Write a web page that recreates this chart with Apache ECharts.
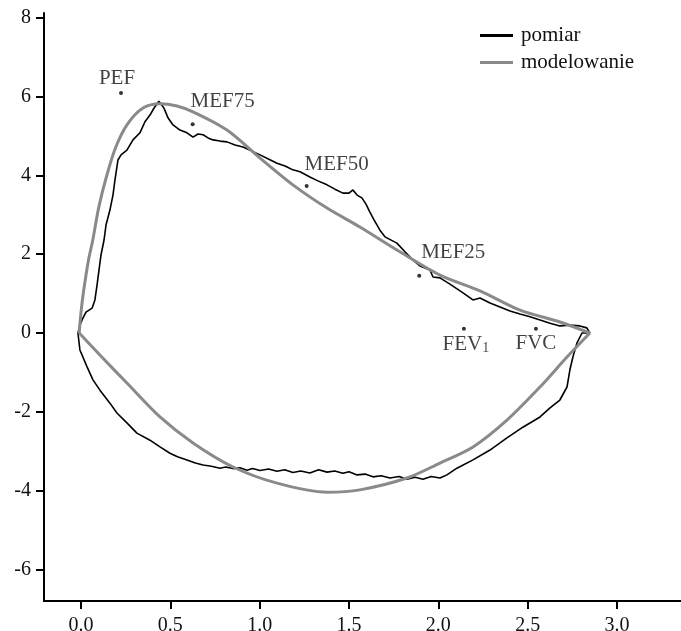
<!DOCTYPE html>
<html>
<head>
<meta charset="utf-8">
<script src="https://cdn.jsdelivr.net/npm/echarts@6/dist/echarts.min.js"></script>
<style>html,body{margin:0;padding:0;background:#fff;}#c{width:681px;height:631px;}</style>
</head>
<body>
<div id="c"></div>
<script>
// ---- data (volume [L], flow [L/s]) ----
const xTicks = [0, 0.5, 1.0, 1.5, 2.0, 2.5, 3.0];
const yTicks = [-6, -4, -2, 0, 2, 4, 6, 8];

const pomiarExpV = [-0.017,-0.006,0.011,0.028,0.062,0.078,0.090,0.101,0.112,0.129,0.140,0.162,0.179,0.190,0.207,0.224,0.257,0.291,0.330,0.358,0.386,0.409,0.425,0.436,0.448,0.464,0.487,0.515,0.554,0.593,0.627,0.655,0.683,0.711,0.739,0.778,0.817,0.862,0.907,0.946,1.002,1.046,1.097,1.142,1.186,1.226,1.281,1.326,1.377,1.421,1.466,1.500,1.522,1.545,1.572,1.595,1.617,1.640,1.673,1.701,1.768,1.813,1.858,1.897,1.953,1.970,2.009,2.065,2.138,2.194,2.233,2.289,2.345,2.401,2.457,2.513,2.569,2.625,2.680,2.736,2.792,2.831,2.848];
const pomiarExpF = [0,0.20,0.38,0.53,0.63,0.84,1.22,1.60,1.98,2.36,2.74,3.12,3.50,3.88,4.39,4.52,4.64,4.90,5.08,5.36,5.53,5.71,5.81,5.88,5.81,5.71,5.46,5.28,5.15,5.08,4.97,5.05,5.03,4.95,4.90,4.87,4.85,4.77,4.72,4.64,4.52,4.42,4.31,4.24,4.14,4.09,3.96,3.86,3.76,3.65,3.55,3.55,3.63,3.50,3.43,3.27,3.07,2.87,2.61,2.44,2.28,2.06,1.85,1.70,1.60,1.42,1.40,1.24,1.02,0.84,0.89,0.76,0.66,0.56,0.48,0.41,0.33,0.25,0.18,0.20,0.18,0.13,0];

const pomiarInsV = [2.804,2.776,2.753,2.736,2.720,2.680,2.625,2.569,2.473,2.384,2.289,2.194,2.104,2.048,2.009,1.960,1.914,1.870,1.824,1.780,1.729,1.680,1.634,1.590,1.545,1.500,1.466,1.420,1.377,1.330,1.281,1.230,1.186,1.140,1.097,1.050,1.002,0.960,0.929,0.890,0.851,0.810,0.778,0.730,0.683,0.640,0.593,0.540,0.498,0.442,0.386,0.313,0.257,0.201,0.162,0.106,0.067,0.034,-0.006,-0.017];
const pomiarInsF = [0,-0.25,-0.61,-0.94,-1.37,-1.70,-1.90,-2.13,-2.39,-2.66,-2.97,-3.22,-3.43,-3.60,-3.68,-3.64,-3.71,-3.66,-3.71,-3.64,-3.68,-3.62,-3.65,-3.58,-3.60,-3.52,-3.56,-3.50,-3.53,-3.47,-3.55,-3.50,-3.54,-3.47,-3.51,-3.45,-3.49,-3.44,-3.48,-3.42,-3.44,-3.40,-3.43,-3.38,-3.35,-3.30,-3.22,-3.14,-3.05,-2.89,-2.72,-2.54,-2.28,-2.03,-1.78,-1.45,-1.19,-0.86,-0.43,0];

const modelExpV = [-0.010,-0.004,0.008,0.024,0.042,0.066,0.100,0.145,0.195,0.260,0.347,0.442,0.537,0.627,0.817,1.002,1.186,1.377,1.561,1.785,2.009,2.233,2.457,2.680,2.848];
const modelExpF = [0,0.33,0.84,1.35,1.85,2.36,3.20,4.01,4.72,5.30,5.71,5.82,5.76,5.61,5.15,4.44,3.76,3.17,2.69,2.06,1.47,1.07,0.58,0.28,0];

const modelInsV = [-0.010,0.106,0.257,0.442,0.627,0.851,1.097,1.377,1.561,1.824,2.009,2.194,2.384,2.569,2.720,2.848];
const modelInsF = [0,-0.56,-1.27,-2.13,-2.79,-3.40,-3.81,-4.04,-3.98,-3.68,-3.30,-2.89,-2.21,-1.37,-0.61,0];

const pointNames = ['PEF','MEF75','MEF50','MEF25','FEV1','FVC'];
const pointV = [0.224,0.625,1.263,1.893,2.143,2.546];
const pointF = [6.09,5.30,3.73,1.45,0.11,0.11];

// ---- build ----
const zip = (a, b) => a.map((v, i) => [v, b[i]]);
const pomiarData = zip(pomiarExpV, pomiarExpF).concat(zip(pomiarInsV, pomiarInsF));
const serif = "'Liberation Serif','Times New Roman',serif";
const txt = '#111';

const labelCfg = {
  PEF:   {offset: [-4, -15]},
  MEF75: {offset: [30, -23]},
  MEF50: {offset: [30, -22]},
  MEF25: {offset: [34, -23]},
  FEV1:  {offset: [2, 16], fmt: '{a|FEV}{b|1}'},
  FVC:   {offset: [0, 15]}
};
const pointData = pointNames.map((n, i) => ({
  value: [pointV[i], pointF[i]],
  label: {
    show: true, position: 'inside',
    offset: labelCfg[n].offset,
    formatter: labelCfg[n].fmt || n,
    color: txt, fontFamily: serif, fontSize: 21,
    rich: {
      a: {fontFamily: serif, fontSize: 21, lineHeight: 21, color: txt, verticalAlign: 'top'},
      b: {fontFamily: serif, fontSize: 14, lineHeight: 14, color: txt, verticalAlign: 'bottom', padding: [10, 0, 0, 0]}
    }
  }
}));

const chart = echarts.init(document.getElementById('c'));
chart.setOption({
  animation: false,
  backgroundColor: '#fff',
  grid: {left: 44, right: 0, top: 13, bottom: 30, containLabel: false, outerBoundsMode: 'none'},
  legend: {
    orient: 'vertical', left: 480, top: 25, itemGap: 6, padding: 0,
    itemWidth: 33, itemHeight: 3, icon: 'rect',
    data: ['pomiar', 'modelowanie'],
    textStyle: {fontFamily: serif, fontSize: 21, color: txt, lineHeight: 21, padding: [0, 0, 0, 3]}
  },
  xAxis: {
    type: 'value', min: -0.207, max: 3.358,
    splitLine: {show: false},
    axisLine: {show: true, onZero: false, lineStyle: {color: '#000', width: 2}},
    axisTick: {show: true, length: 8, lineStyle: {color: '#000', width: 2}, customValues: xTicks},
    axisLabel: {customValues: xTicks, formatter: v => v.toFixed(1), fontFamily: serif, fontSize: 20, color: txt, margin: 15}
  },
  yAxis: {
    type: 'value', min: -6.80, max: 8.12,
    splitLine: {show: false},
    axisLine: {show: true, onZero: false, lineStyle: {color: '#000', width: 2}},
    axisTick: {show: true, length: 8, lineStyle: {color: '#000', width: 2}, customValues: yTicks},
    axisLabel: {customValues: yTicks, formatter: v => String(v), fontFamily: serif, fontSize: 20, color: txt, margin: 13}
  },
  series: [
    {name: 'pomiar', type: 'line', data: pomiarData, showSymbol: false, smooth: false,
     lineStyle: {color: '#000', width: 1.6}, itemStyle: {color: '#000'}, z: 2},
    {name: 'modelowanie', type: 'line', data: zip(modelExpV, modelExpF), showSymbol: false, smooth: 0.3,
     lineStyle: {color: '#8a8a8a', width: 3}, itemStyle: {color: '#8a8a8a'}, z: 3},
    {name: 'modelowanie', type: 'line', data: zip(modelInsV, modelInsF), showSymbol: false, smooth: 0.3,
     lineStyle: {color: '#8a8a8a', width: 3}, itemStyle: {color: '#8a8a8a'}, z: 3},
    {name: 'punkty', type: 'scatter', data: pointData, symbolSize: 4, itemStyle: {color: '#000'}, z: 5}
  ]
});
</script>
</body>
</html>
